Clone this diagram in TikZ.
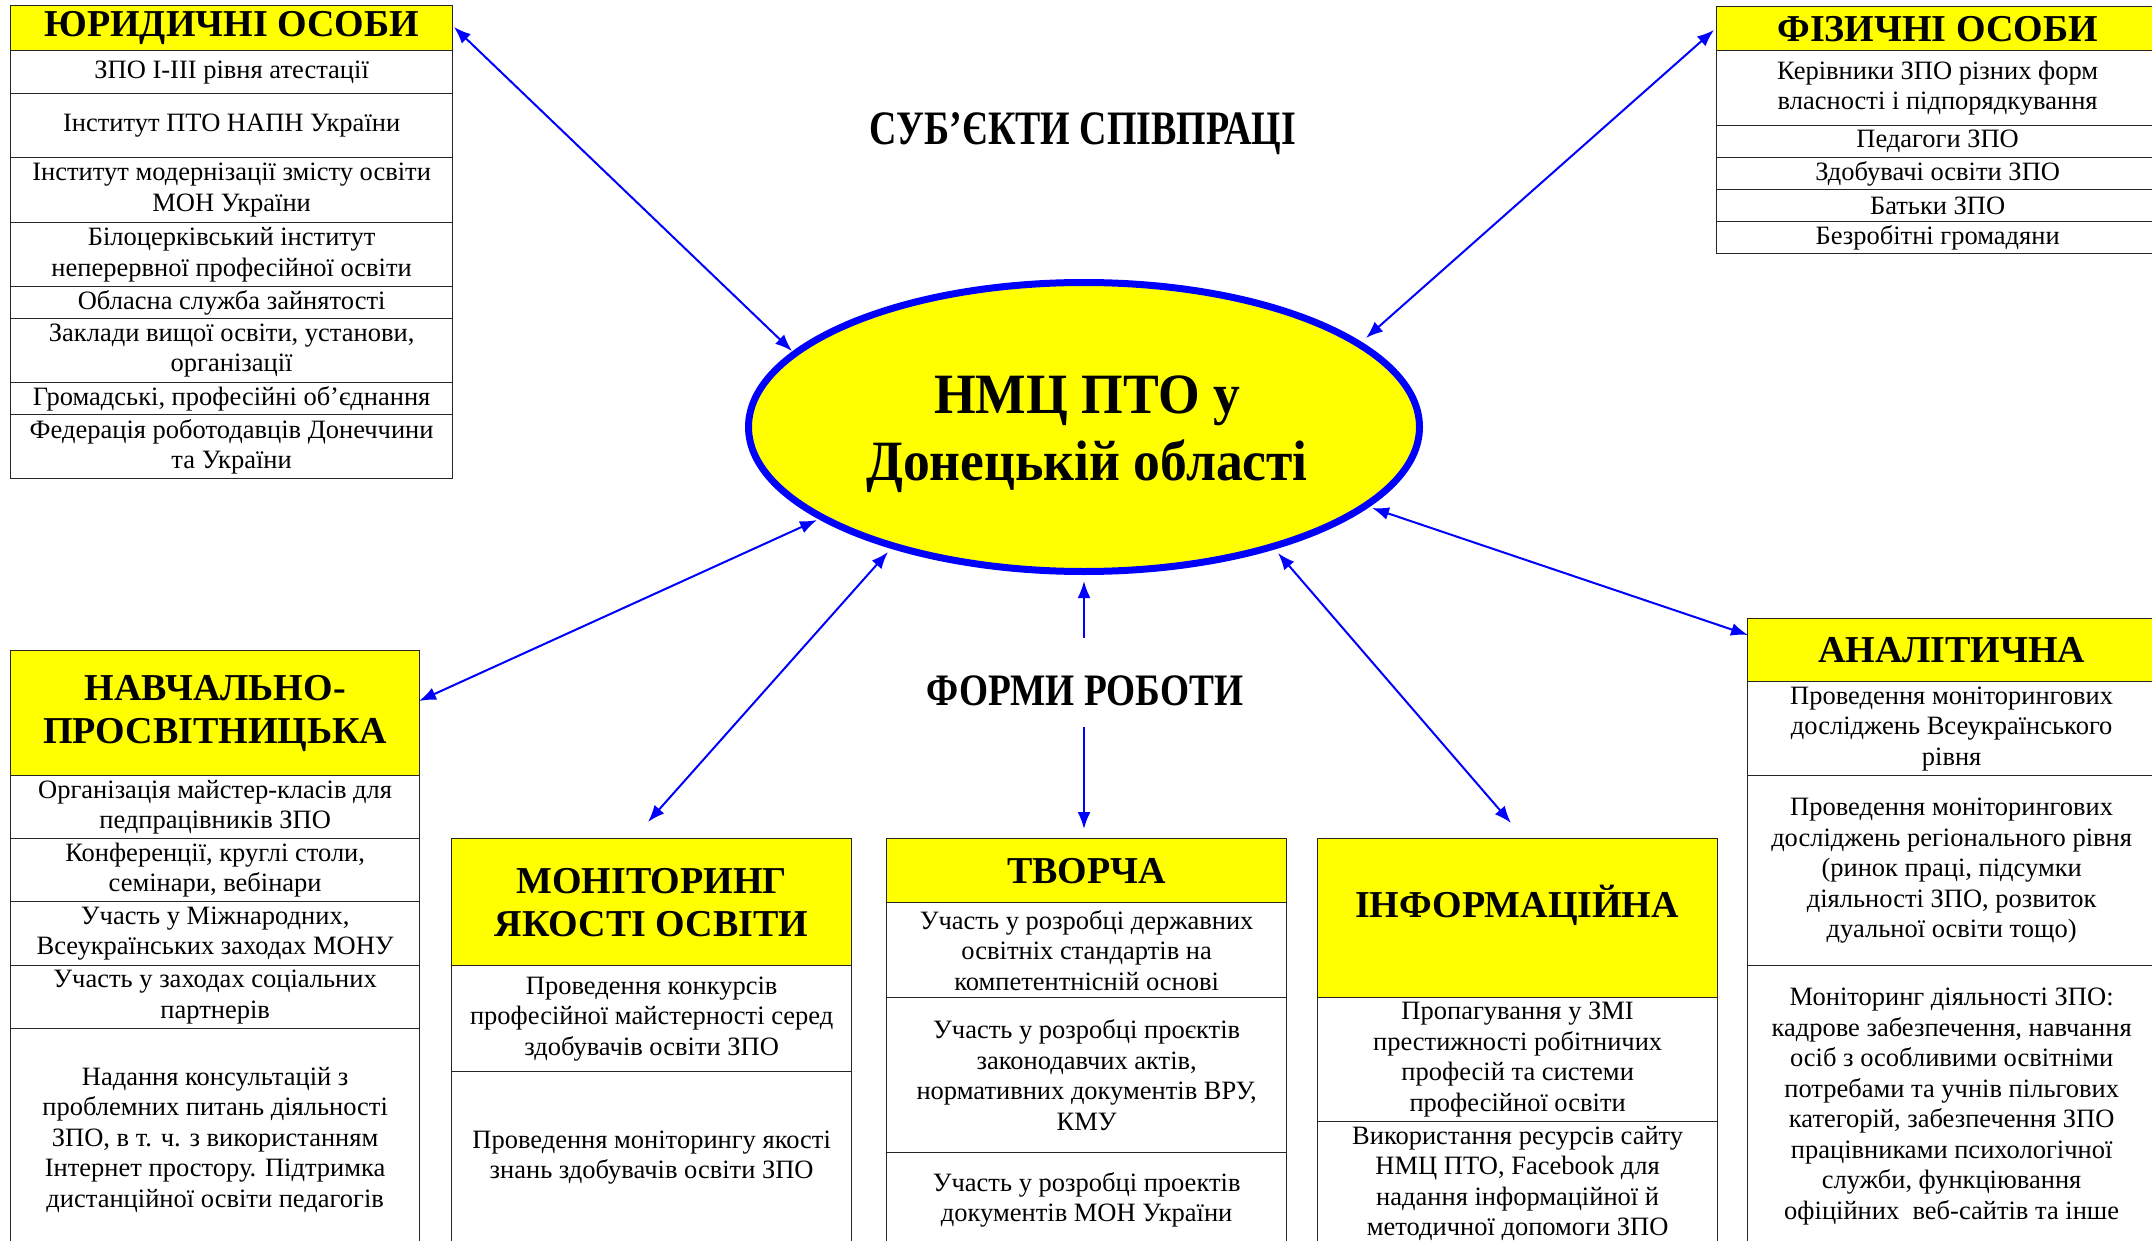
\documentclass[tikz,border=0pt]{standalone}
\usepackage{fontspec}
\setmainfont{Liberation Serif}
\usetikzlibrary{arrows.meta,shapes.geometric}
\definecolor{ylw}{RGB}{255,255,0}
\definecolor{blu}{RGB}{0,0,255}
\newcommand\bodyf{\fontsize{26.5}{30.5}\selectfont}
\newcommand\headf{\fontsize{38}{43}\selectfont\bfseries}
\newcommand\Cell[7]{\pgfmathsetmacro\cellh{#5-#4}\node[#1, minimum width=#6pt, minimum height=\cellh pt] (#2) at (#3,#4) {#7};}
\begin{document}
\begin{tikzpicture}[x=1pt,y=-1pt,
  cellbox/.style={draw=black!85, line width=1.3pt, inner sep=0pt, anchor=north west, align=center, font=\bodyf},
  headbox/.style={cellbox, fill=ylw, font=\headf},
  arr/.style={draw=blu, line width=2pt, {Latex[length=17pt,width=13pt]}-{Latex[length=17pt,width=13pt]}},
  arrone/.style={draw=blu, line width=2pt, -{Latex[length=17pt,width=13pt]}}]
\useasboundingbox (0,0) rectangle (2152,1241);
\clip (0,0) rectangle (2152,1241);
\fill[white] (0,0) rectangle (2152,1241);

% titles
\node[anchor=base, font=\fontsize{48}{52}\selectfont\bfseries] (subj) at (1083,145) {\scalebox{0.79}[1]{СУБ’ЄКТИ СПІВПРАЦІ}};
\node[anchor=base, font=\fontsize{45}{50}\selectfont\bfseries] (forms) at (1085,705) {\scalebox{0.83}[1]{ФОРМИ РОБОТИ}};

% centre ellipse
\node[ellipse, draw=blu, fill=ylw, line width=7pt, minimum width=671pt, minimum height=289pt, inner sep=0pt] (ell) at (1084,427) {};
\node[font=\fontsize{57}{67}\selectfont\bfseries, anchor=base] (ellt) at (1087,413) {\scalebox{0.94}[1]{НМЦ ПТО у}};
\node[font=\fontsize{57}{67}\selectfont\bfseries, anchor=base] (ellt2) at (1087,480) {\scalebox{0.94}[1]{Донецькій області}};

% top-left: legal entities
\Cell{headbox}{jur}{10}{5}{50}{442}{ЮРИДИЧНІ ОСОБИ}
\Cell{cellbox}{j1}{10}{50}{93}{442}{ЗПО І-ІІІ рівня атестації}
\Cell{cellbox}{j2}{10}{93}{157}{442}{Інститут ПТО НАПН України}
\Cell{cellbox}{j3}{10}{157}{222}{442}{Інститут модернізації змісту освіти\\МОН України}
\Cell{cellbox}{j4}{10}{222}{286}{442}{Білоцерківський інститут\\неперервної професійної освіти}
\Cell{cellbox}{j5}{10}{286}{318}{442}{Обласна служба зайнятості}
\Cell{cellbox}{j6}{10}{318}{382}{442}{Заклади вищої освіти, установи,\\організації}
\Cell{cellbox}{j7}{10}{382}{414}{442}{Громадські, професійні об’єднання}
\Cell{cellbox}{j8}{10}{414}{478}{442}{Федерація роботодавців Донеччини\\та України}

% top-right: individuals
\Cell{headbox}{fiz}{1716}{6}{50}{442}{ФІЗИЧНІ ОСОБИ}
\Cell{cellbox}{f1}{1716}{50}{125}{442}{Керівники ЗПО різних форм\\власності і підпорядкування}
\Cell{cellbox}{f2}{1716}{125}{157}{442}{Педагоги ЗПО}
\Cell{cellbox}{f3}{1716}{157}{189}{442}{Здобувачі освіти ЗПО}
\Cell{cellbox}{f4}{1716}{189}{221}{442}{Батьки ЗПО}
\Cell{cellbox}{f5}{1716}{221}{253}{442}{Безробітні громадяни}

% educational
\Cell{headbox}{nav}{10}{650}{775}{409}{НАВЧАЛЬНО-\\ПРОСВІТНИЦЬКА}
\Cell{cellbox}{n1}{10}{775}{838}{409}{Організація майстер-класів для\\педпрацівників ЗПО}
\Cell{cellbox}{n2}{10}{838}{901}{409}{Конференції, круглі столи,\\семінари, вебінари}
\Cell{cellbox}{n3}{10}{901}{965}{409}{Участь у Міжнародних,\\Всеукраїнських заходах МОНУ}
\Cell{cellbox}{n4}{10}{965}{1028}{409}{Участь у заходах соціальних\\партнерів}
\Cell{cellbox}{n5}{10}{1028}{1250}{409}{Надання консультацій з\\проблемних питань діяльності\\ЗПО, в т. ч. з використанням\\Інтернет простору. Підтримка\\дистанційної освіти педагогів}

% monitoring
\Cell{headbox}{mon}{451}{838}{965}{400}{МОНІТОРИНГ\\ЯКОСТІ ОСВІТИ}
\Cell{cellbox}{m1}{451}{965}{1071}{400}{Проведення конкурсів\\професійної майстерності серед\\здобувачів освіти ЗПО}
\Cell{cellbox}{m2}{451}{1071}{1243}{400}{Проведення моніторингу якості\\знань здобувачів освіти ЗПО}

% creative
\Cell{headbox}{tv}{886}{838}{902}{400}{ТВОРЧА}
\Cell{cellbox}{t1}{886}{902}{997}{400}{Участь у розробці державних\\освітніх стандартів на\\компетентнісній основі}
\Cell{cellbox}{t2}{886}{997}{1152}{400}{Участь у розробці проєктів\\законодавчих актів,\\нормативних документів ВРУ,\\КМУ}
\Cell{cellbox}{t3}{886}{1152}{1246}{400}{Участь у розробці проектів\\документів МОН України}

% informational
\Cell{headbox}{inf}{1317}{838}{997}{400}{}
\node[font=\headf, anchor=base] (inft) at (1517,917) {ІНФОРМАЦІЙНА};
\Cell{cellbox}{i1}{1317}{997}{1121}{400}{Пропагування у ЗМІ\\престижності робітничих\\професій та системи\\професійної освіти}
\Cell{cellbox}{i2}{1317}{1121}{1245}{400}{Використання ресурсів сайту\\НМЦ ПТО, Facebook для\\надання інформаційної й\\методичної допомоги ЗПО}

% analytical
\Cell{headbox}{an}{1747}{618}{681}{408}{АНАЛІТИЧНА}
\Cell{cellbox}{a1}{1747}{681}{775}{408}{Проведення моніторингових\\досліджень Всеукраїнського\\рівня}
\Cell{cellbox}{a2}{1747}{775}{965}{408}{Проведення моніторингових\\досліджень регіонального рівня\\(ринок праці, підсумки\\діяльності ЗПО, розвиток\\дуальної освіти тощо)}
\Cell{cellbox}{a3}{1747}{965}{1247}{408}{Моніторинг діяльності ЗПО:\\кадрове забезпечення, навчання\\осіб з особливими освітніми\\потребами та учнів пільгових\\категорій, забезпечення ЗПО\\працівниками психологічної\\служби, функціювання\\офіційних~ веб-сайтів та інше}

% connector end points
\coordinate (cJ) at (454,27);   \coordinate (eJ) at (792,351);
\coordinate (cF) at (1714,30);  \coordinate (eF) at (1366,338);
\coordinate (cN) at (419,701);  \coordinate (eN) at (817,520);
\coordinate (cM) at (648,822);  \coordinate (eM) at (888,552);
\coordinate (cU) at (1084,638); \coordinate (eU) at (1084,581);
\coordinate (cD) at (1084,727); \coordinate (eD) at (1084,829);
\coordinate (cI) at (1511,823); \coordinate (eI) at (1278,553);
\coordinate (cA) at (1748,635); \coordinate (eA) at (1372,508);

\draw[arr] (cJ) -- (eJ);
\draw[arr] (cF) -- (eF);
\draw[arr] (cN) -- (eN);
\draw[arr] (cM) -- (eM);
\draw[arrone] (cU) -- (eU);
\draw[arrone] (cD) -- (eD);
\draw[arr] (cI) -- (eI);
\draw[arr] (cA) -- (eA);
\end{tikzpicture}
\end{document}
